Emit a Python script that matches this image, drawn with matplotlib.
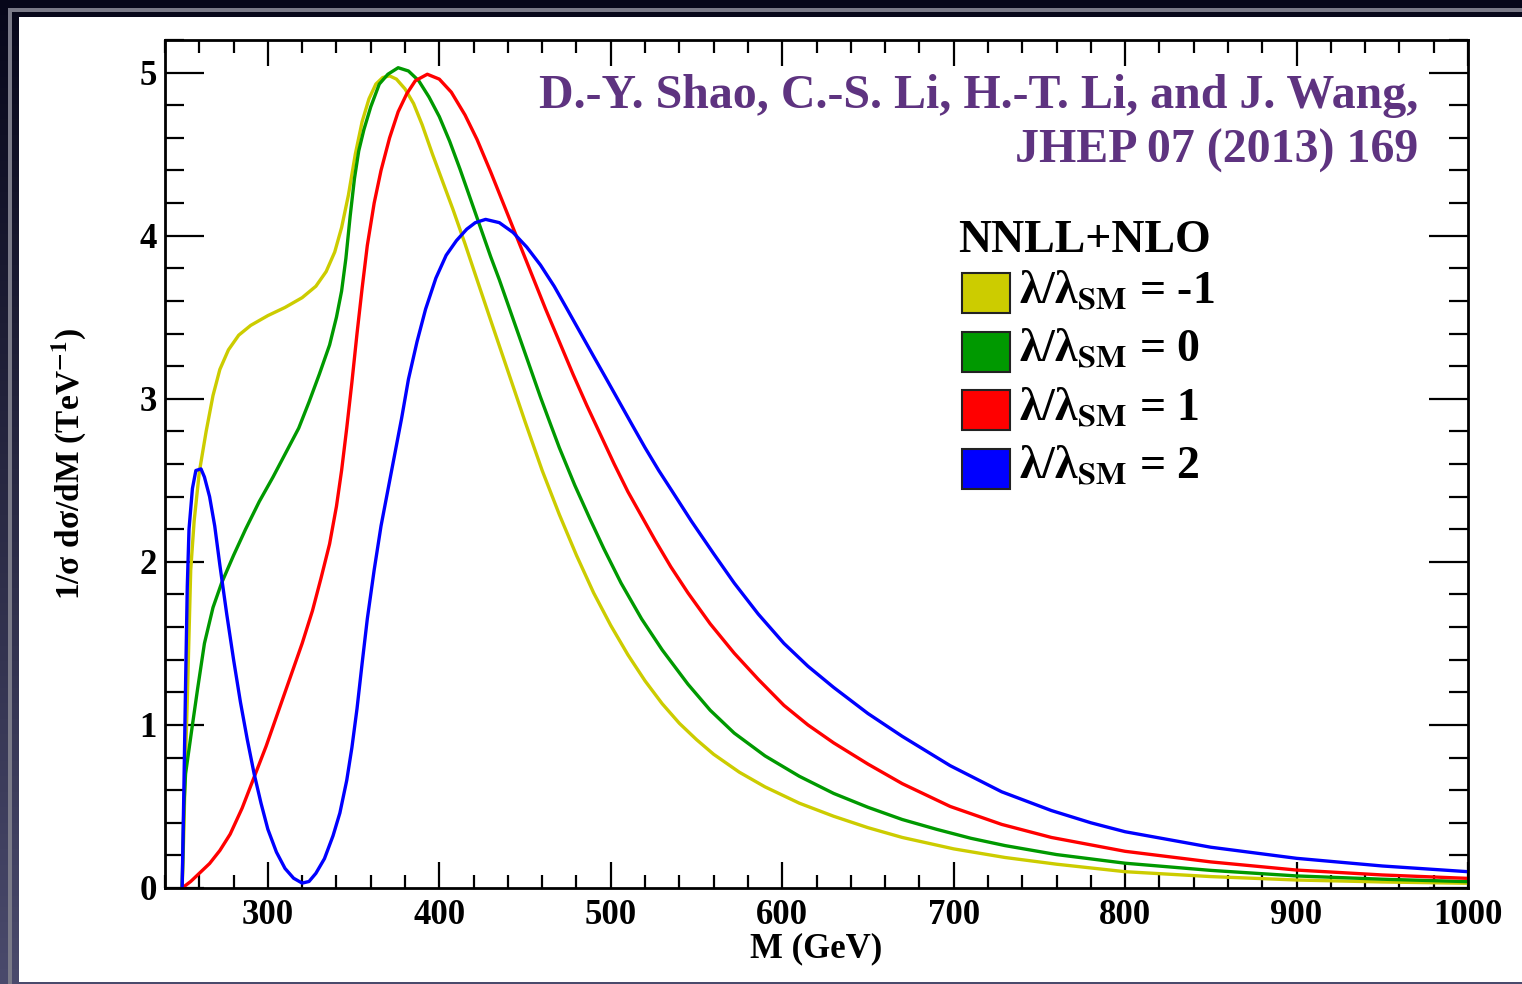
import matplotlib.pyplot as plt
import numpy as np
from matplotlib.colors import LinearSegmentedColormap
from matplotlib.patches import Rectangle
from matplotlib.ticker import MultipleLocator

plt.rcParams['font.family'] = ['Liberation Serif', 'DejaVu Serif']
plt.rcParams['font.weight'] = 'bold'
plt.rcParams['mathtext.fontset'] = 'stix'

# lambda/lambda_SM = -1
m_yellow = [250, 251, 252, 253, 254, 255, 257, 260, 264, 268, 272, 277, 283, 290, 300, 310, 320,
            328, 334, 339, 343, 347, 351, 355, 359, 363, 367, 371, 375, 380, 385, 390, 396, 402,
            408, 415, 422, 430, 440, 450, 460, 470, 480, 490, 500, 510, 520, 530, 540, 550, 560,
            575, 590, 610, 630, 650, 670, 700, 730, 760, 800, 850, 900, 950, 1000]
y_yellow = [0, 0.35, 0.8, 1.15, 1.55, 1.95, 2.25, 2.55, 2.8, 3.02, 3.18, 3.3, 3.39, 3.45, 3.51, 3.56, 3.62,
            3.69, 3.78, 3.9, 4.05, 4.25, 4.5, 4.7, 4.84, 4.93, 4.97, 4.98, 4.96, 4.9, 4.81, 4.68, 4.5, 4.33,
            4.16, 3.95, 3.73, 3.48, 3.17, 2.86, 2.56, 2.29, 2.04, 1.81, 1.61, 1.43, 1.27, 1.13, 1.01, 0.91, 0.82,
            0.71, 0.62, 0.52, 0.44, 0.37, 0.31, 0.24, 0.187, 0.146, 0.1, 0.07, 0.049, 0.037, 0.029]

# lambda/lambda_SM = 0
m_green = [250, 251, 252, 254, 256, 259, 263, 268, 273, 280, 287, 295, 303, 311, 318, 324, 330, 336,
           340, 343, 345.5, 348, 350.5, 353, 356, 360, 365, 370, 376, 382, 388, 394, 400, 406, 412,
           418, 424, 430, 435, 441, 447, 453, 459, 465, 470, 479, 488, 496, 506, 518, 530, 545, 558,
           572, 590, 610, 630, 650, 670, 690, 710, 730, 760, 800, 850, 900, 950, 1000]
y_green = [0, 0.5, 0.7, 0.85, 1.0, 1.22, 1.5, 1.72, 1.87, 2.04, 2.2, 2.37, 2.52, 2.68, 2.82, 2.98, 3.15, 3.33,
           3.5, 3.66, 3.86, 4.12, 4.35, 4.52, 4.65, 4.79, 4.93, 4.99, 5.03, 5.01, 4.95, 4.85, 4.73, 4.58, 4.41,
           4.23, 4.05, 3.87, 3.73, 3.55, 3.37, 3.19, 3.01, 2.84, 2.7, 2.47, 2.26, 2.08, 1.87, 1.65, 1.46, 1.25, 1.09,
           0.95, 0.81, 0.685, 0.58, 0.495, 0.42, 0.36, 0.305, 0.26, 0.205, 0.152, 0.108, 0.074, 0.054, 0.039]

# lambda/lambda_SM = 1
m_red = [250, 255, 260, 266, 272, 278, 285, 292, 299, 306, 313, 320, 326, 331, 336, 340, 343, 346,
         349, 352, 355, 358, 362, 366, 371, 376, 381, 386, 393, 400, 407, 415, 422, 430, 438, 446,
         454, 462, 470, 478, 486, 494, 502, 510, 518, 526, 535, 545, 558, 572, 586, 601, 615, 630,
         650, 670, 698, 728, 757, 800, 850, 900, 950, 1000]
y_red = [0, 0.04, 0.09, 0.15, 0.23, 0.33, 0.49, 0.68, 0.87, 1.08, 1.29, 1.5, 1.7, 1.9, 2.11, 2.34, 2.56, 2.82,
         3.1, 3.4, 3.68, 3.94, 4.2, 4.4, 4.6, 4.76, 4.87, 4.95, 4.99, 4.96, 4.88, 4.74, 4.59, 4.39, 4.18, 3.97,
         3.76, 3.55, 3.35, 3.15, 2.96, 2.78, 2.6, 2.43, 2.28, 2.13, 1.97, 1.81, 1.62, 1.44, 1.28, 1.12, 1.0, 0.89,
         0.76, 0.64, 0.5, 0.39, 0.31, 0.225, 0.16, 0.11, 0.08, 0.059]

# lambda/lambda_SM = 2
m_blue = [250, 251, 252, 253, 254, 256, 258, 261, 263, 266, 269, 272, 276, 280, 284, 288, 292, 296,
          300, 305, 310, 315, 320, 324, 328, 333, 338, 342, 346, 349, 352, 355, 358, 362, 366, 370,
          374, 378, 382, 387, 392, 398, 404, 410, 416, 421, 427, 435, 443, 451, 459, 467, 474, 482,
          490, 497, 505, 513, 520, 528, 536, 547, 560, 572, 586, 601, 615, 630, 650, 670, 698, 728,
          757, 780, 800, 850, 900, 950, 1000]
y_blue = [0, 0.6, 1.25, 1.85, 2.2, 2.45, 2.56, 2.57, 2.52, 2.4, 2.22, 1.98, 1.68, 1.4, 1.14, 0.91, 0.7, 0.52,
          0.36, 0.22, 0.12, 0.06, 0.03, 0.04, 0.09, 0.18, 0.32, 0.46, 0.66, 0.86, 1.1, 1.38, 1.65, 1.95, 2.22, 2.44,
          2.66, 2.88, 3.12, 3.35, 3.55, 3.74, 3.88, 3.97, 4.04, 4.08, 4.1, 4.08, 4.02, 3.93, 3.82, 3.69, 3.56, 3.41,
          3.26, 3.13, 2.98, 2.83, 2.7, 2.56, 2.43, 2.25, 2.05, 1.87, 1.68, 1.5, 1.36, 1.23, 1.07, 0.93, 0.75, 0.59,
          0.475, 0.4, 0.345, 0.25, 0.182, 0.135, 0.1]

labels = ['-1', '0', '1', '2']
colors = ['#cccc00', '#009900', '#ff0000', '#0000ff']

W, H = 1522, 984
fig = plt.figure(figsize=(W / 100, H / 100), dpi=100)

# dark slide background with a white panel
bg = fig.add_axes([0, 0, 1, 1])
grad = np.linspace(0, 1, 256).reshape(-1, 1)
bg.imshow(grad, aspect='auto', extent=[0, 1, 0, 1], origin='upper',
          cmap=LinearSegmentedColormap.from_list('bg', ['#07071a', '#4a4a6c']))
bg.add_patch(Rectangle((8 / W, 0), 4 / W, 1 - 8 / H, color='#7a7a88', lw=0))
bg.add_patch(Rectangle((8 / W, 1 - 12 / H), 1, 4 / H, color='#7a7a88', lw=0))
bg.add_patch(Rectangle((19 / W, 2 / H), 1, 1 - 19 / H, color='white', lw=0))
bg.set_xlim(0, 1)
bg.set_ylim(0, 1)
bg.axis('off')

ax = fig.add_axes([165 / W, 1 - 888 / H, (1468 - 165) / W, (888 - 40) / H])
series = [(m_yellow, y_yellow), (m_green, y_green), (m_red, y_red), (m_blue, y_blue)]
for (m, y), c in zip(series, colors):
    ax.plot(m, y, color=c, lw=2.4, solid_joinstyle='round', solid_capstyle='round')

ax.set_xlim(240, 1000)
ax.set_ylim(0, 5.2)
ax.xaxis.set_major_locator(MultipleLocator(100))
ax.xaxis.set_minor_locator(MultipleLocator(20))
ax.yaxis.set_major_locator(MultipleLocator(1))
ax.yaxis.set_minor_locator(MultipleLocator(0.2))
ax.tick_params(which='both', direction='in', top=True, right=True, width=1.6, labelsize=25)
ax.tick_params(axis='x', which='major', length=19, pad=8)
ax.tick_params(axis='x', which='minor', length=9.5)
ax.tick_params(axis='y', which='major', length=28, pad=6)
ax.tick_params(axis='y', which='minor', length=13.5)
for s in ax.spines.values():
    s.set_linewidth(2)
for lab in ax.get_xticklabels() + ax.get_yticklabels():
    lab.set_fontweight('bold')

ax.set_xlabel('M (GeV)', fontsize=25, fontweight='bold', labelpad=0)
ax.set_ylabel(r'1/σ dσ/dM (TeV$^{\mathbf{-1}}$)', fontsize=24, fontweight='bold', labelpad=37)

purple = '#5e3380'
fig.text(1418 / W, 1 - 108 / H, 'D.-Y. Shao, C.-S. Li, H.-T. Li, and J. Wang,',
         ha='right', va='baseline', fontsize=34.5, fontweight='bold', color=purple)
fig.text(1418 / W, 1 - 163 / H, 'JHEP 07 (2013) 169',
         ha='right', va='baseline', fontsize=34.5, fontweight='bold', color=purple)

# legend
fig.text(958 / W, 1 - 252 / H, 'NNLL+NLO', ha='left', va='baseline', fontsize=33, fontweight='bold')
for i, (lab, c) in enumerate(zip(labels, colors)):
    top = 273 + i * 58.5
    fig.add_artist(Rectangle((962 / W, 1 - (top + 40) / H), 48 / W, 40 / H,
                             facecolor=c, edgecolor='#222222', lw=1.5, transform=fig.transFigure))
    fig.text(1019 / W, 1 - (top + 30) / H, r'λ/λ$_{\mathbf{SM}}$ = ' + lab,
             ha='left', va='baseline', fontsize=33, fontweight='bold')

fig.savefig('out.png', dpi=100)
